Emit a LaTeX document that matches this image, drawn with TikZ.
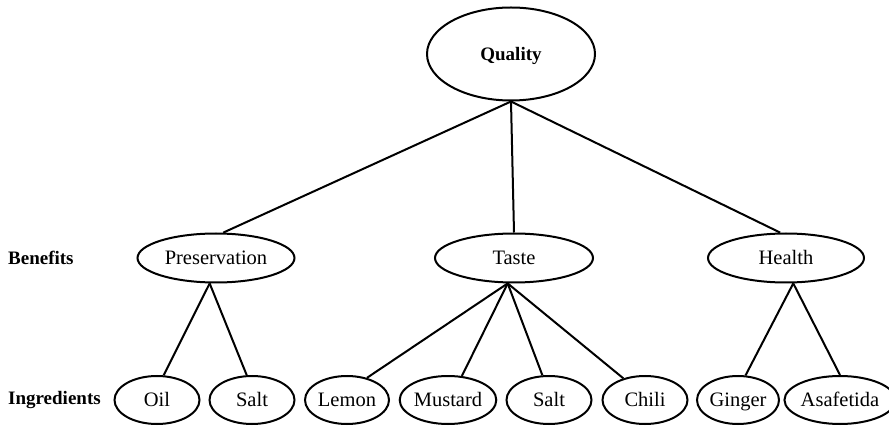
\documentclass[tikz,border=0pt]{standalone}
\usepackage{fontspec}
\setmainfont{Liberation Serif}
\usetikzlibrary{shapes.geometric}
\tikzset{
  oval/.style={ellipse, draw, line width=2pt, inner sep=0pt, text height=18pt, text depth=4.5pt, font=\fontsize{20.5}{24}\selectfont},
  topoval/.style={oval, minimum width=168pt, minimum height=93pt, font=\fontsize{19}{23}\selectfont\bfseries},
  midoval/.style={oval, minimum height=49pt},
  leaf/.style={oval, minimum width=85pt, minimum height=48pt},
  level/.style={anchor=west, font=\fontsize{19}{23}\selectfont\bfseries, inner sep=0pt},
  link/.style={line width=2pt}
}
\begin{document}
\begin{tikzpicture}[x=1pt,y=1pt]
\useasboundingbox (0,0) rectangle (889,426);
\node[topoval] (q) at (511,372) {Quality};
\node[midoval, minimum width=157pt] (pres) at (216,168) {Preservation};
\node[midoval, minimum width=158pt] (taste) at (514,168) {Taste};
\node[midoval, minimum width=156pt] (health) at (786,168) {Health};
\node[leaf] (oil) at (157,26) {Oil};
\node[leaf] (salta) at (252,26) {Salt};
\node[leaf, minimum width=84pt] (lemon) at (347,26) {Lemon};
\node[leaf, minimum width=95pt] (mustard) at (448,26) {Mustard};
\node[leaf] (saltb) at (549,26) {Salt};
\node[leaf] (chili) at (645,26) {Chili};
\node[leaf, minimum width=82pt] (ginger) at (738,26) {Ginger};
\node[leaf, minimum width=94pt] (asa) at (840,26) {Asafetida};
\node[level] (ben) at (8,168) {Benefits};
\node[level] (ing) at (8,26) {Ingredients};
\draw[link] (q.south) -- (pres.74);
\draw[link] (q.south) -- (taste.north);
\draw[link] (q.south) -- (health.103);
\draw[link] (pres.256) -- (oil.75);
\draw[link] (pres.256) -- (salta.102);
\draw[link] (taste.256) -- (lemon.48);
\draw[link] (taste.256) -- (mustard.60);
\draw[link] (taste.256) -- (saltb.105);
\draw[link] (taste.256) -- (chili.135);
\draw[link] (health.286) -- (ginger.73);
\draw[link] (health.286) -- (asa.north);
\end{tikzpicture}
\end{document}
